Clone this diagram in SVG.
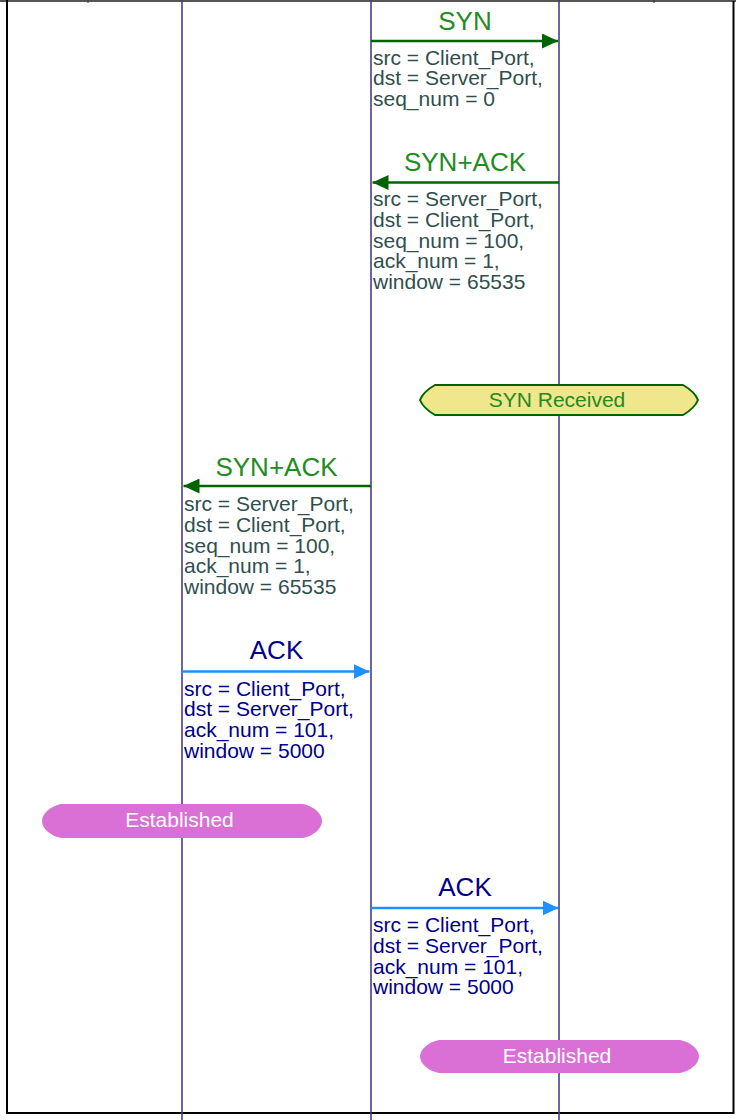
<svg xmlns="http://www.w3.org/2000/svg" width="736" height="1120" viewBox="0 0 736 1120">
<style>
  text { font-family: "Liberation Sans", Arial, sans-serif; }
  .lifeline { stroke: #483D8B; stroke-width: 1.6; fill: none; }
  .frame { stroke: #000; stroke-width: 2; fill: none; }
  .msg-g { stroke: #006400; stroke-width: 2.5; fill: none; }
  .msg-b { stroke: #1E90FF; stroke-width: 2.5; fill: none; }
  .lbl { font-size: 26px; text-anchor: middle; }
  .lbl-g { fill: #228B22; }
  .lbl-b { fill: #00008B; }
  .prm { font-size: 21px; }
  .prm-g { fill: #2F4F4F; }
  .prm-b { fill: #00008B; }
  .st-text { font-size: 21px; text-anchor: middle; }
</style>
<defs>
  <marker id="ah-g" viewBox="0 0 16 15" refX="16" refY="7.5" markerWidth="16" markerHeight="15" markerUnits="userSpaceOnUse" orient="auto">
    <path d="M0,0 L16,7.5 L0,15 Z" fill="#006400"/>
  </marker>
  <marker id="ah-b" viewBox="0 0 16 15" refX="16" refY="7.5" markerWidth="16" markerHeight="15" markerUnits="userSpaceOnUse" orient="auto">
    <path d="M0,0 L16,7.5 L0,15 Z" fill="#1E90FF"/>
  </marker>
</defs>
<rect x="0" y="0" width="736" height="1120" fill="#fff"/>
<g id="frame">
  <line x1="0" y1="1" x2="736" y2="1" stroke="#555" stroke-width="2"/>
  <line x1="88" y1="0" x2="88" y2="3" stroke="#333" stroke-width="1"/>
  <line x1="654" y1="0" x2="654" y2="3" stroke="#333" stroke-width="1"/>
  <polyline class="frame" points="7,0 7,1113 733.5,1113 733.5,1"/>
</g>
<g id="lifeline-client">
  <line class="lifeline" x1="182" y1="0" x2="182" y2="1120"/>
</g>
<g id="lifeline-middle">
  <line class="lifeline" x1="371" y1="0" x2="371" y2="1120"/>
</g>
<g id="lifeline-server">
  <line class="lifeline" x1="559" y1="0" x2="559" y2="1120"/>
</g>
<g id="connectors">
  <g id="msg-syn">
    <line class="msg-g" x1="371" y1="41" x2="558" y2="41" marker-end="url(#ah-g)"/>
    <text class="lbl lbl-g" x="465" y="29.5">SYN</text>
    <text class="prm prm-g"><tspan x="373" y="64.5">src = Client_Port,</tspan><tspan x="373" y="85.3">dst = Server_Port,</tspan><tspan x="373" y="106.1">seq_num = 0</tspan></text>
  </g>
  <g id="msg-synack-1">
    <line class="msg-g" x1="559" y1="182.5" x2="372.5" y2="182.5" marker-end="url(#ah-g)"/>
    <text class="lbl lbl-g" x="465" y="171">SYN+ACK</text>
    <text class="prm prm-g"><tspan x="373" y="206">src = Server_Port,</tspan><tspan x="373" y="226.8">dst = Client_Port,</tspan><tspan x="373" y="247.6">seq_num = 100,</tspan><tspan x="373" y="268.4">ack_num = 1,</tspan><tspan x="373" y="289.2">window = 65535</tspan></text>
  </g>
  <g id="msg-synack-2">
    <line class="msg-g" x1="371" y1="486" x2="183.5" y2="486" marker-end="url(#ah-g)"/>
    <text class="lbl lbl-g" x="276.5" y="475.5">SYN+ACK</text>
    <text class="prm prm-g"><tspan x="184" y="511">src = Server_Port,</tspan><tspan x="184" y="531.8">dst = Client_Port,</tspan><tspan x="184" y="552.6">seq_num = 100,</tspan><tspan x="184" y="573.4">ack_num = 1,</tspan><tspan x="184" y="594.2">window = 65535</tspan></text>
  </g>
  <g id="msg-ack-1">
    <line class="msg-b" x1="182" y1="671.5" x2="369.5" y2="671.5" marker-end="url(#ah-b)"/>
    <text class="lbl lbl-b" x="276.5" y="659">ACK</text>
    <text class="prm prm-b"><tspan x="184" y="695.5">src = Client_Port,</tspan><tspan x="184" y="716.3">dst = Server_Port,</tspan><tspan x="184" y="737.1">ack_num = 101,</tspan><tspan x="184" y="757.9">window = 5000</tspan></text>
  </g>
  <g id="msg-ack-2">
    <line class="msg-b" x1="371" y1="908" x2="558.5" y2="908" marker-end="url(#ah-b)"/>
    <text class="lbl lbl-b" x="465" y="895.5">ACK</text>
    <text class="prm prm-b"><tspan x="373" y="932">src = Client_Port,</tspan><tspan x="373" y="952.8">dst = Server_Port,</tspan><tspan x="373" y="973.6">ack_num = 101,</tspan><tspan x="373" y="994.4">window = 5000</tspan></text>
  </g>
</g>
<g id="state-syn-received">
  <path d="M435,385 H683 C690,389 696,395 698,400 C696,405 690,411 683,415 H435 C428,411 422,405 420,400 C422,395 428,389 435,385 Z" fill="#F0E68C" stroke="#006400" stroke-width="2"/>
  <text class="st-text" x="557" y="406.5" fill="#228B22">SYN Received</text>
</g>
<g id="state-established-client">
  <path d="M61,804 H303 C313,806 322,813 322,821 C322,829 313,836 303,838 H61 C51,836 42,829 42,821 C42,813 51,806 61,804 Z" fill="#DA70D6"/>
  <text class="st-text" x="179.5" y="827" fill="#fff">Established</text>
</g>
<g id="state-established-server">
  <path d="M439,1040 H680 C690,1042 699,1049 699,1056.5 C699,1064 690,1071 680,1073 H439 C429,1071 420,1064 420,1056.5 C420,1049 429,1042 439,1040 Z" fill="#DA70D6"/>
  <text class="st-text" x="557" y="1063" fill="#fff">Established</text>
</g>
</svg>
